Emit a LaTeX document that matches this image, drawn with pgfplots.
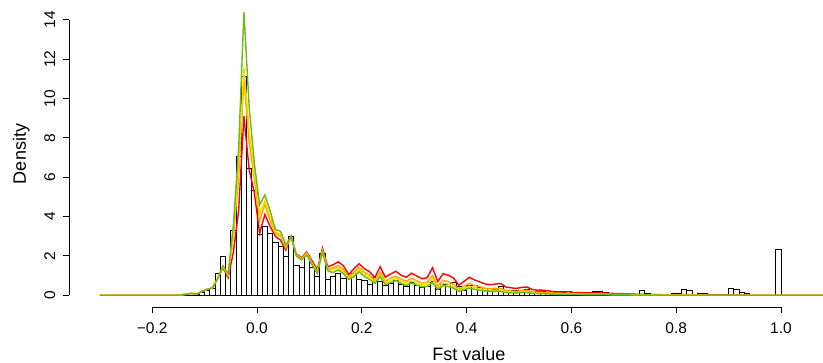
\documentclass[border=0pt]{standalone}
\usepackage{pgfplots}
\usepackage{pgfplotstable}
\pgfplotsset{compat=1.18}
\usepackage{fontspec}
\setmainfont{Liberation Sans}
\definecolor{cR}{RGB}{255,0,0}
\definecolor{cO}{RGB}{255,165,0}
\definecolor{cY}{RGB}{240,220,0}
\definecolor{cG}{RGB}{110,185,20}

\pgfplotstableread{
x h
-0.15 0.02
-0.14 0.05
-0.13 0.10
-0.12 0.05
-0.11 0.15
-0.10 0.23
-0.09 0.36
-0.08 1.12
-0.07 2.00
-0.06 1.20
-0.05 3.32
-0.04 7.05
-0.03 11.11
-0.02 6.46
-0.01 5.32
0.00 3.10
0.01 3.50
0.02 3.15
0.03 2.71
0.04 2.47
0.05 2.00
0.06 2.98
0.07 1.54
0.08 1.40
0.09 2.05
0.10 1.42
0.11 0.94
0.12 2.13
0.13 0.81
0.14 0.98
0.15 1.11
0.16 0.85
0.17 0.90
0.18 1.10
0.19 0.80
0.20 0.75
0.21 0.55
0.22 0.90
0.23 0.70
0.24 0.50
0.25 0.60
0.26 0.75
0.27 0.55
0.28 0.45
0.29 0.65
0.30 0.50
0.31 0.40
0.32 0.45
0.33 0.70
0.34 0.30
0.35 0.55
0.36 0.55
0.37 0.65
0.38 0.45
0.39 0.25
0.40 0.50
0.41 0.50
0.42 0.40
0.43 0.30
0.44 0.27
0.45 0.30
0.46 0.47
0.47 0.27
0.48 0.24
0.49 0.27
0.50 0.27
0.51 0.30
0.52 0.20
0.53 0.22
0.54 0.20
0.55 0.14
0.56 0.14
0.57 0.14
0.58 0.17
0.59 0.20
0.60 0.15
0.61 0.10
0.62 0.15
0.63 0.14
0.64 0.18
0.65 0.18
0.66 0.15
0.67 0.08
0.68 0.08
0.69 0.10
0.70 0.10
0.71 0.06
0.72 0.05
0.73 0.27
0.74 0.12
0.75 0.05
0.76 0.05
0.77 0.04
0.78 0.05
0.79 0.08
0.80 0.10
0.81 0.32
0.82 0.24
0.83 0.05
0.84 0.10
0.85 0.10
0.86 0.05
0.87 0.02
0.88 0.02
0.89 0.05
0.90 0.36
0.91 0.29
0.92 0.17
0.93 0.10
0.94 0.00
0.95 0.00
0.96 0.00
0.97 0.00
0.98 0.00
0.99 2.35
1.00 0.00
}\histtab

\pgfplotstableread{
x R O Y G
-0.300 0 0 0 0
-0.155 0 0 0 0
-0.145 0.02 0.02 0.02 0.02
-0.135 0.05 0.05 0.05 0.05
-0.125 0.10 0.10 0.10 0.10
-0.115 0.06 0.06 0.06 0.06
-0.105 0.20 0.20 0.20 0.20
-0.095 0.30 0.30 0.30 0.30
-0.085 0.38 0.38 0.38 0.38
-0.075 0.85 0.85 0.85 0.85
-0.065 1.40 1.45 1.45 1.50
-0.055 0.90 1.00 1.05 1.10
-0.045 2.20 3.00 3.20 3.60
-0.035 4.30 6.00 6.50 7.50
-0.025 9.10 11.00 11.60 14.40
-0.015 6.40 7.80 8.40 9.60
-0.005 5.20 5.90 6.20 6.70
0.005 3.15 3.80 4.10 4.60
0.015 4.10 4.60 4.80 5.10
0.025 3.50 3.80 4.00 4.30
0.035 3.00 3.15 3.25 3.35
0.045 2.80 3.00 3.10 3.25
0.055 2.30 2.40 2.50 2.55
0.065 3.00 3.00 3.00 3.00
0.075 2.10 2.05 2.05 2.00
0.085 1.90 1.85 1.82 1.80
0.095 2.20 2.15 2.10 2.05
0.105 1.75 1.65 1.60 1.55
0.115 1.30 1.20 1.15 1.10
0.125 2.40 2.30 2.25 2.20
0.135 1.45 1.35 1.30 1.25
0.145 1.55 1.38 1.28 1.15
0.155 1.70 1.52 1.42 1.30
0.165 1.50 1.32 1.22 1.10
0.175 1.05 0.92 0.86 0.80
0.185 1.35 1.17 1.06 0.95
0.195 1.60 1.42 1.31 1.20
0.205 1.35 1.17 1.06 0.95
0.215 1.20 1.02 0.91 0.80
0.225 0.90 0.74 0.66 0.60
0.235 1.45 1.18 1.06 0.95
0.245 0.92 0.72 0.63 0.55
0.255 1.08 0.87 0.76 0.65
0.265 1.22 0.97 0.86 0.75
0.275 1.02 0.82 0.71 0.60
0.285 0.92 0.72 0.61 0.50
0.295 1.12 0.87 0.73 0.62
0.305 0.98 0.74 0.63 0.52
0.315 0.84 0.62 0.51 0.42
0.325 0.90 0.67 0.56 0.45
0.335 1.40 1.00 0.82 0.65
0.345 0.70 0.46 0.37 0.30
0.355 1.10 0.75 0.60 0.48
0.365 1.02 0.70 0.57 0.45
0.375 0.88 0.57 0.45 0.36
0.385 0.52 0.33 0.26 0.20
0.395 0.70 0.46 0.36 0.28
0.405 0.92 0.60 0.47 0.37
0.415 0.78 0.50 0.39 0.30
0.425 0.68 0.44 0.34 0.26
0.435 0.58 0.36 0.28 0.22
0.445 0.54 0.33 0.26 0.20
0.455 0.57 0.35 0.26 0.20
0.465 0.60 0.36 0.27 0.20
0.475 0.42 0.24 0.18 0.13
0.485 0.38 0.22 0.17 0.12
0.495 0.35 0.20 0.15 0.11
0.505 0.40 0.24 0.18 0.13
0.515 0.42 0.26 0.19 0.14
0.525 0.30 0.18 0.13 0.10
0.535 0.26 0.16 0.11 0.09
0.545 0.26 0.16 0.11 0.08
0.555 0.23 0.14 0.10 0.07
0.565 0.19 0.12 0.08 0.06
0.575 0.18 0.11 0.07 0.05
0.585 0.17 0.10 0.07 0.05
0.595 0.18 0.10 0.07 0.05
0.605 0.14 0.08 0.06 0.04
0.625 0.13 0.07 0.05 0.035
0.645 0.13 0.07 0.05 0.03
0.665 0.11 0.06 0.04 0.03
0.685 0.09 0.05 0.03 0.02
0.705 0.08 0.05 0.03 0.02
0.725 0.05 0.03 0.02 0.01
0.745 0.04 0.02 0.01 0.01
0.800 0.02 0.01 0.01 0.00
0.900 0.01 0.00 0.00 0.00
0.950 0 0 0 0
1.080 0 0 0 0
}\lintab

\begin{document}
\begin{tikzpicture}[x=1pt,y=1pt]
\begin{axis}[
  at={(69pt,56pt)}, anchor=south west,
  scale only axis, width=754pt, height=307pt,
  xmin=-0.3588, xmax=1.0802, ymin=-0.595, ymax=15.01,
  clip=false,
  axis line style={draw=none},
  tick pos=left, tick align=outside,
  major tick length=6.5pt,
  every tick/.style={black, line width=0.9pt},
  xtick={-0.2,0,0.2,0.4,0.6,0.8,1.0},
  ytick={0,2,4,6,8,10,12,14},
  xticklabels={}, yticklabels={},
]
\addplot[ybar interval, fill=white, draw=black, line width=0.8pt] table[x=x,y=h] {\histtab};
\addplot[cR, line width=1.4pt] table[x=x,y=R] {\lintab};
\addplot[cO, line width=1.4pt] table[x=x,y=O] {\lintab};
\addplot[cY, line width=1.4pt] table[x=x,y=Y] {\lintab};
\addplot[cG, line width=1.4pt] table[x=x,y=G] {\lintab};
\end{axis}
% axis lines (R style: only over the tick range)
\draw[line width=0.9pt] (152.2,56) -- (781,56);
\draw[line width=0.9pt] (69,67.7) -- (69,343.1);
% tick labels
\begin{scope}[font=\fontsize{15.5}{18}\selectfont]
\foreach \v/\t in {-0.2/−0.2,0/0.0,0.2/0.2,0.4/0.4,0.6/0.6,0.8/0.8,1.0/1.0}
  \node[anchor=base, inner sep=0pt] at ({257+524*\v},29.4) {\t};
\foreach \v in {0,2,4,6,8,10,12,14}
  \node[anchor=base, rotate=90, inner sep=0pt] at (55,{67.7+19.673*\v}) {\v};
\end{scope}
\node[anchor=base, inner sep=0pt, font=\fontsize{18}{21}\selectfont] at (469,2.6) {Fst value};
\node[anchor=base, rotate=90, inner sep=0pt, font=\fontsize{18}{21}\selectfont] at (26,209) {Density};
\pgfresetboundingbox
\useasboundingbox (0,0) rectangle (823,363);
\end{tikzpicture}
\end{document}
